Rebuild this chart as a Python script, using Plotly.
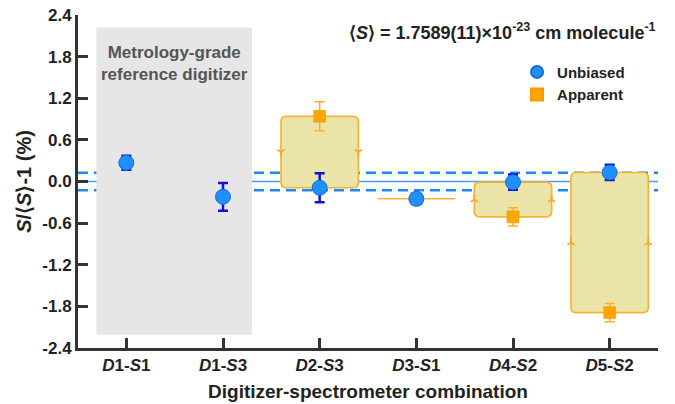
import plotly.graph_objects as go

# ---------------- data ----------------
categories = ["D1-S1", "D1-S3", "D2-S3", "D3-S1", "D4-S2", "D5-S2"]
tick_text = ["<i>D</i>1-<i>S</i>1", "<i>D</i>1-<i>S</i>3", "<i>D</i>2-<i>S</i>3",
             "<i>D</i>3-<i>S</i>1", "<i>D</i>4-<i>S</i>2", "<i>D</i>5-<i>S</i>2"]
unbiased = [0.27, -0.22, -0.09, -0.25, -0.01, 0.13]
unbiased_err = [0.10, 0.20, 0.21, 0.07, 0.11, 0.11]
apparent = [None, None, 0.94, -0.25, -0.51, -1.89]
apparent_err = [None, None, 0.21, 0.07, 0.13, 0.13]
mean_unc = 0.125          # expanded relative uncertainty of <S> (%)
y_ticks = [-2.4, -1.8, -1.2, -0.6, 0.0, 0.6, 1.2, 1.8, 2.4]
ref_region = (-0.31, 1.30, -2.21, 2.22)   # metrology-grade shaded region

FONT = "Liberation Sans, Arial, sans-serif"
DARK = "#222222"
xi = list(range(len(categories)))

fig = go.Figure()

# shaded reference region
fig.add_shape(type="rect", xref="x", yref="y",
              x0=ref_region[0], x1=ref_region[1], y0=ref_region[2], y1=ref_region[3],
              fillcolor="#e6e6e6", line_width=0, layer="below")

# rounded boxes between apparent and unbiased
half_w = 0.4
rx, ry = 0.055, 0.08
arrow_x, arrow_y, arrow_sym = [], [], []
for i, (u, a) in enumerate(zip(unbiased, apparent)):
    if a is None:
        continue
    x0, x1 = i - half_w, i + half_w
    lo, hi = min(u, a), max(u, a)
    h = hi - lo
    if h < 1e-6:
        fig.add_shape(type="line", xref="x", yref="y", x0=x0, x1=x1, y0=lo, y1=lo,
                      line=dict(color="#f9b233", width=1.5), layer="below")
        continue
    r_y = min(ry, h / 2)
    path = (f"M {x0+rx},{lo} L {x1-rx},{lo} Q {x1},{lo} {x1},{lo+r_y} "
            f"L {x1},{hi-r_y} Q {x1},{hi} {x1-rx},{hi} L {x0+rx},{hi} "
            f"Q {x0},{hi} {x0},{hi-r_y} L {x0},{lo+r_y} Q {x0},{lo} {x0+rx},{lo} Z")
    fig.add_shape(type="path", xref="x", yref="y", path=path,
                  fillcolor="#ebe4a8", line=dict(color="#f9b233", width=1.7),
                  layer="below")
    mid = (u + a) / 2
    sym = "y-up" if u > a else "y-down"
    for xx in (x0, x1):
        arrow_x.append(xx)
        arrow_y.append(mid)
        arrow_sym.append(sym)

# mean and uncertainty lines
fig.add_shape(type="line", xref="paper", yref="y", x0=0, x1=1, y0=0, y1=0,
              line=dict(color="#4a9cf0", width=1.5), layer="below")
for s in (mean_unc, -mean_unc):
    fig.add_shape(type="line", xref="paper", yref="y", x0=0, x1=1, y0=s, y1=s,
                  line=dict(color="#1e88f0", width=2.5, dash="10px,6px"), layer="below")

# direction arrows on box edges
fig.add_trace(go.Scatter(x=arrow_x, y=arrow_y, mode="markers", showlegend=False,
                         hoverinfo="skip",
                         marker=dict(symbol=arrow_sym, size=6,
                                     line=dict(color="#f7a81b", width=1.6),
                                     color="#f7a81b")))

# apparent
ax = [i for i, a in zip(xi, apparent) if a is not None]
ay = [a for a in apparent if a is not None]
ae = [e for e in apparent_err if e is not None]
fig.add_trace(go.Scatter(x=ax, y=ay, mode="markers", name="Apparent",
                         marker=dict(symbol="square", size=12, color="#ffa500",
                                     line=dict(color="#f59b00", width=0.5)),
                         error_y=dict(type="data", array=ae, color="#ffb020",
                                      thickness=1.5, width=5)))
# unbiased
fig.add_trace(go.Scatter(x=xi, y=unbiased, mode="markers", name="Unbiased",
                         marker=dict(symbol="circle", size=15, color="#1e90ff",
                                     line=dict(color="#1a66d8", width=1)),
                         error_y=dict(type="data", array=unbiased_err, color="#1010e0",
                                      thickness=2.5, width=5)))

# annotations
fig.add_annotation(x=0.5, y=1.70, xref="x", yref="y",
                   text="Metrology-grade<br>reference digitizer", showarrow=False,
                   font=dict(family=FONT, size=17, color="#555555", weight="bold"),
                   align="center")
fig.add_annotation(x=1.0, y=1.0, xref="paper", yref="paper", xanchor="right",
                   yanchor="top", yshift=-3,
                   text="⟨<i>S</i>⟩ = 1.7589(11)×10<sup>-23</sup> cm molecule<sup>-1</sup>",
                   showarrow=False,
                   font=dict(family=FONT, size=18, color=DARK, weight="bold"))

fig.update_layout(
    width=675, height=404,
    margin=dict(l=78, r=17, t=15, b=56),
    paper_bgcolor="white", plot_bgcolor="white",
    font=dict(family=FONT, color=DARK, weight="bold"),
    legend=dict(x=0.757, y=0.878, xanchor="left", yanchor="top",
                traceorder="reversed", bgcolor="rgba(0,0,0,0)",
                font=dict(family=FONT, size=15, color=DARK, weight="bold"),
                itemsizing="constant", tracegroupgap=0, itemwidth=30),
    xaxis=dict(range=[-0.5, 5.5], tickmode="array", tickvals=xi, ticktext=tick_text,
               showgrid=False, zeroline=False, showline=True, linecolor="#333333",
               linewidth=3, ticks="inside", ticklen=10, tickwidth=3,
               tickcolor="#333333", automargin=False,
               tickfont=dict(family=FONT, size=17, color=DARK, weight="bold"),
               title=dict(text="Digitizer-spectrometer combination", standoff=11,
                          font=dict(family=FONT, size=19, color=DARK, weight="bold"))),
    yaxis=dict(range=[-2.4, 2.4], tickmode="array", tickvals=y_ticks,
               ticktext=[f"{v:.1f}" for v in y_ticks],
               showgrid=False, zeroline=False, showline=True, linecolor="#333333",
               linewidth=3, ticks="inside", ticklen=10, tickwidth=3,
               tickcolor="#333333", automargin=False,
               tickfont=dict(family=FONT, size=17, color=DARK, weight="bold"),
               title=dict(text="<i>S</i>/⟨<i>S</i>⟩-1 (%)", standoff=6,
                          font=dict(family=FONT, size=20, color=DARK, weight="bold"))),
)

# remove the default page-body margin so the figure sits at the window origin
fig.write_html("out.html", config={"displayModeBar": False},
               post_script="document.body.style.margin='0';")
